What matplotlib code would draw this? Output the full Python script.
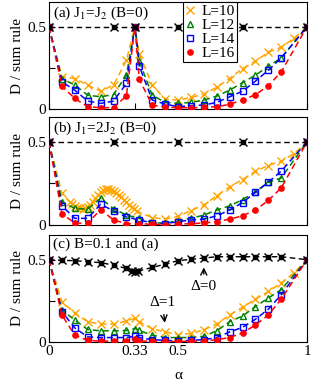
import numpy as np
import matplotlib
matplotlib.use('Agg')
import matplotlib.pyplot as plt
from matplotlib.lines import Line2D

# global plot settings
font_size = 11
plt.rcParams['font.family'] = ['Liberation Serif', 'DejaVu Serif']
plt.rcParams['mathtext.fontset'] = 'stix'
plt.rcParams['font.size'] = font_size

# ---------------------------------------------------------------- data
labels = ['L=10', 'L=12', 'L=14', 'L=16']

# panel (a) J1=J2, B=0
a_alpha10 = [0, .05, .1, .15, .2, .25, .3, .333, .35, .4, .45, .5, .55, .6, .65, .7, .75, .8, .85, .9, .95, 1]
a_alpha = [0, .05, .1, .15, .2, .25, .3, .333, .35, .4, .45, .5, .55, .6, .65, .7, .75, .8, .85, .9, 1]
a_L10 = [0.5, 0.195, 0.185, 0.145, 0.108, 0.145, 0.295, 0.5, 0.335, 0.145, 0.06, 0.054, 0.07, 0.09, 0.132, 0.185, 0.245, 0.29, 0.345, 0.375, 0.43, 0.5]
a_L12 = [0.5, 0.185, 0.145, 0.084, 0.074, 0.088, 0.205, 0.5, 0.29, 0.084, 0.04, 0.034, 0.04, 0.054, 0.078, 0.114, 0.16, 0.205, 0.26, 0.31, 0.5]
a_L14 = [0.5, 0.165, 0.114, 0.048, 0.034, 0.048, 0.155, 0.5, 0.26, 0.054, 0.03, 0.014, 0.02, 0.024, 0.04, 0.074, 0.108, 0.169, 0.235, 0.31, 0.5]
a_L16 = [0.5, 0.139, 0.064, 0.014, 0.008, 0.008, 0.08, 0.5, 0.18, 0.024, 0.012, 0.008, 0.008, 0.01, 0.014, 0.028, 0.056, 0.086, 0.142, 0.225, 0.5]
a_alpha_bk = [0, .25, .333, .5, .75, 1]
a_bk = [0.5, 0.5, 0.5, 0.5, 0.5, 0.5]

# panel (b) J1=2J2, B=0
b_alpha10 = [0, .05, .08, .09, .10, .11, .12, .13, .14, .15, .16, .17, .18, .19, .20, .21, .22, .23, .24, .25,
             .26, .27, .28, .29, .30, .31, .32, .33, .34, .4, .45, .5, .55, .6, .65, .7, .75, .8, .85, .9, .95, 1]
b_L10 = [0.5, 0.19, 0.14, 0.125, 0.113, 0.105, 0.10, 0.098, 0.10, 0.108, 0.122, 0.14, 0.16, 0.18, 0.196, 0.208,
         0.215, 0.217, 0.213, 0.205, 0.195, 0.182, 0.168, 0.152, 0.137, 0.122, 0.108, 0.095, 0.083, 0.045, 0.035,
         0.052, 0.087, 0.12, 0.176, 0.23, 0.273, 0.324, 0.358, 0.384, 0.43, 0.5]
b_alpha = [0, .05, .1, .15, .2, .25, .3, .35, .4, .45, .5, .55, .6, .65, .7, .75, .8, .85, .9, 1]
b_L12 = [0.5, 0.14, 0.10, 0.095, 0.162, 0.098, 0.06, 0.04, 0.015, 0.01, 0.026, 0.04, 0.06, 0.09, 0.115, 0.152, 0.2, 0.257, 0.283, 0.5]
b_L14 = [0.5, 0.115, 0.04, 0.04, 0.125, 0.085, 0.048, 0.03, 0.012, 0.008, 0.02, 0.03, 0.035, 0.055, 0.09, 0.135, 0.196, 0.257, 0.324, 0.5]
b_L16 = [0.5, 0.067, 0.012, 0.011, 0.093, 0.03, 0.008, 0.008, 0.004, 0.003, 0.005, 0.008, 0.012, 0.02, 0.035, 0.055, 0.09, 0.148, 0.223, 0.5]
b_alpha_bk = [0, .25, .5, .75, 1]
b_bk = [0.5, 0.5, 0.5, 0.5, 0.5]

# panel (c) B=0.1, J1=J2
c_alpha10 = [0, .05, .1, .15, .2, .25, .3, .333, .35, .4, .45, .5, .55, .6, .65, .7, .75, .8, .85, .9, .95, 1]
c_alpha = [0, .05, .1, .15, .2, .25, .3, .333, .35, .4, .45, .5, .55, .6, .65, .7, .75, .8, .85, .9, 1]
c_L10 = [0.5, 0.246, 0.175, 0.123, 0.109, 0.109, 0.127, 0.144, 0.123, 0.08, 0.062, 0.045, 0.052, 0.074, 0.109, 0.164, 0.211, 0.26, 0.307, 0.359, 0.42, 0.5]
c_L12 = [0.5, 0.195, 0.133, 0.076, 0.068, 0.068, 0.07, 0.082, 0.07, 0.041, 0.027, 0.027, 0.027, 0.035, 0.068, 0.123, 0.158, 0.215, 0.267, 0.318, 0.5]
c_L14 = [0.5, 0.184, 0.085, 0.031, 0.027, 0.027, 0.027, 0.035, 0.027, 0.014, 0.01, 0.006, 0.01, 0.014, 0.027, 0.061, 0.089, 0.138, 0.199, 0.287, 0.5]
c_L16 = [0.5, 0.164, 0.041, 0.01, 0.005, 0.005, 0.005, 0.02, 0.006, 0.005, 0.004, 0.003, 0.005, 0.006, 0.014, 0.027, 0.055, 0.103, 0.164, 0.26, 0.5]
c_alpha_bk = [0, .05, .1, .15, .2, .25, .3, .32, .333, .345, .4, .45, .5, .55, .6, .65, .7, .75, .8, .85, .9, 1]
c_bk = [0.5, 0.496, 0.494, 0.488, 0.482, 0.467, 0.447, 0.432, 0.428, 0.43, 0.453, 0.473, 0.494, 0.502, 0.51,
        0.518, 0.518, 0.518, 0.518, 0.518, 0.518, 0.5]

panel_titles = ['(a) J$_1$=J$_2$ (B=0)', '(b) J$_1$=2J$_2$ (B=0)', '(c) B=0.1 and (a)']
xticks = [0, 1/3, 0.5, 1]
xticklabels = ['0', '0.33', '0.5', '1']

# styles
colors = ['orange', 'green', 'blue', 'red']
markers = ['x', '^', 's', 'o']
msizes = [5.5, 4.5, 4.5, 3.8]
mfaces = ['orange', 'none', 'none', 'red']

panels = [
    (a_alpha10, a_L10, a_alpha, [a_L12, a_L14, a_L16], a_alpha_bk, a_bk),
    (b_alpha10, b_L10, b_alpha, [b_L12, b_L14, b_L16], b_alpha_bk, b_bk),
    (c_alpha10, c_L10, c_alpha, [c_L12, c_L14, c_L16], c_alpha_bk, c_bk),
]

fig = plt.figure(figsize=(3.12, 3.82), dpi=100)
left = 49/312 ; width = 258/312
tops = [2, 117, 235] ; bots = [109, 225, 342]

for i, (x10, y10, x, ys, xb, yb) in enumerate(panels):
    ax = fig.add_axes([left, 1-bots[i]/382, width, (bots[i]-tops[i])/382])
    allx = [x10, x, x, x]
    ally = [y10] + ys
    for k in range(4):
        ax.plot(allx[k], ally[k], ls=(0, (4, 2.5)), lw=1.1, color=colors[k], marker=markers[k],
                ms=msizes[k], mfc=mfaces[k], mec=colors[k], mew=1.0, zorder=3+k)
    # black reference curve
    ax.plot(xb, yb, ls=(0, (4, 2.5)), lw=1.0, color='k', zorder=8)
    ax.plot(xb, yb, ls='none', marker='s', ms=3.2, color='k', zorder=9)
    ax.plot(xb, yb, ls='none', marker='x', ms=5.5, mew=1.0, color='k', zorder=9)

    ax.set_xlim(0, 1)
    ax.set_ylim(0, 0.65)
    ax.set_yticks([0, 0.25, 0.5])
    ax.set_yticklabels(['0', '', '0.5'])
    ax.set_xticks(xticks)
    ax.tick_params(direction='in', length=4, width=0.8, labelsize=font_size, pad=2)
    ax.set_ylabel('D / sum rule', fontsize=font_size, labelpad=2)
    ax.text(0.015, 0.975, panel_titles[i], transform=ax.transAxes, va='top', ha='left', fontsize=font_size)
    if i < 2:
        ax.set_xticklabels([])
    else:
        ax.set_xticklabels(xticklabels)
        ax.set_xlabel('α', fontsize=font_size, labelpad=8)
        ax.annotate('Δ=1', xy=(0.45, 0.1), xytext=(0.44, 0.2), ha='center', va='bottom',
                    fontsize=font_size, arrowprops=dict(arrowstyle='->', color='k', lw=1))
        ax.annotate('Δ=0', xy=(0.6, 0.47), xytext=(0.6, 0.3), ha='center', va='bottom',
                    fontsize=font_size, arrowprops=dict(arrowstyle='->', color='k', lw=1))
    if i == 0:
        handles = [Line2D([], [], ls='none', marker=markers[k], ms=msizes[k], mfc=mfaces[k],
                          mec=colors[k], mew=1.0) for k in range(4)]
        leg = ax.legend(handles, labels, loc='upper left', bbox_to_anchor=(0.519, 1.0),
                        borderaxespad=0, fontsize=font_size, handlelength=0.6, handletextpad=0.45,
                        labelspacing=0.02, borderpad=0.15, fancybox=False, framealpha=1,
                        edgecolor='k')
        leg.get_frame().set_linewidth(0.8)
        leg.set_zorder(20)

plt.savefig('out.png', dpi=100)
